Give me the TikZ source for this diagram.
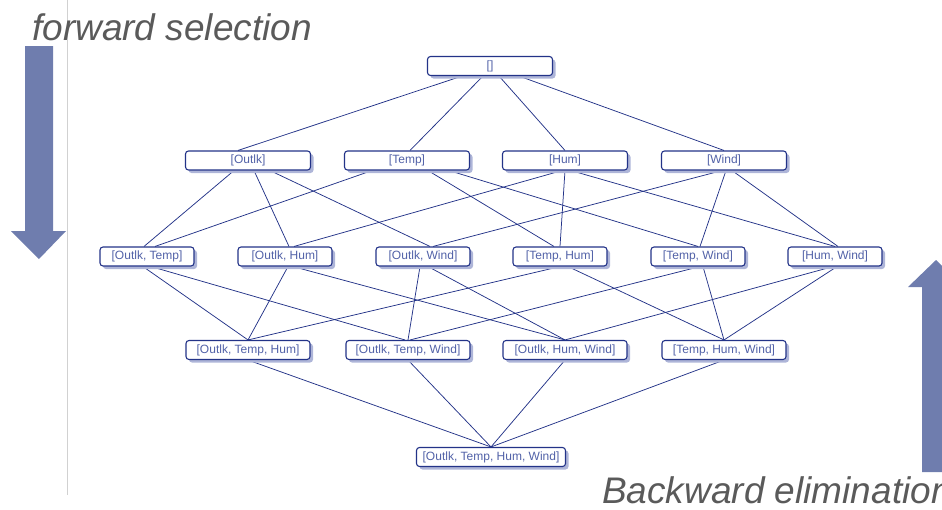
\documentclass[tikz,border=0pt]{standalone}
\usepackage{fontspec}
\setsansfont{Liberation Sans}
\usetikzlibrary{shadows,backgrounds}
\definecolor{navy}{HTML}{233388}
\definecolor{boxtext}{HTML}{5262A8}
\definecolor{shade}{HTML}{AEB5D8}
\definecolor{arrowc}{HTML}{6F7DAE}
\definecolor{captxt}{HTML}{5A5A5A}
\tikzset{
  box/.style={draw=navy, line width=1.1pt, rounded corners=3pt, fill=white,
    minimum height=19pt, inner sep=0pt, font=\sffamily\fontsize{12}{13}\selectfont,
    text=boxtext, general shadow={shadow xshift=3pt, shadow yshift=-3pt, fill=shade}},
  lnk/.style={draw=navy, line width=0.75pt},
  bigarrow/.style={fill=arrowc, draw=none},
  caption/.style={anchor=base west, inner sep=0pt, text=captxt,
    font=\sffamily\itshape\fontsize{37}{40}\selectfont}
}
\begin{document}
\begin{tikzpicture}[x=1pt,y=-1pt]
\useasboundingbox (0,0) rectangle (942,509);
\clip (0,0) rectangle (942,509);
\draw[black!18, line width=0.8pt] (67,0) -- (67,495);

% big arrows
\fill[bigarrow] (25,46) -- (53,46) -- (53,231) -- (66,231) -- (39,259) -- (11,231) -- (25,231) -- cycle;
\fill[bigarrow] (922,472) -- (950,472) -- (950,287) -- (964,287) -- (936,260) -- (908,287) -- (922,287) -- cycle;

\node[caption] (fwd) at (32,40) {forward selection};
\node[caption] (bwd) at (602,503) {Backward elimination};

% nodes
\node[box, minimum width=125pt] (t0) at (490,66) {[]};

\node[box, minimum width=125pt] (o) at (248,160.5) {[Outlk]};
\node[box, minimum width=125pt] (t) at (407,160.5) {[Temp]};
\node[box, minimum width=125pt] (h) at (565,160.5) {[Hum]};
\node[box, minimum width=125pt] (w) at (724,160.5) {[Wind]};

\node[box, minimum width=94pt] (ot) at (147,256.5) {[Outlk, Temp]};
\node[box, minimum width=94pt] (oh) at (285,256.5) {[Outlk, Hum]};
\node[box, minimum width=94pt] (ow) at (423,256.5) {[Outlk, Wind]};
\node[box, minimum width=94pt] (th) at (560,256.5) {[Temp, Hum]};
\node[box, minimum width=94pt] (tw) at (698,256.5) {[Temp, Wind]};
\node[box, minimum width=94pt] (hw) at (835,256.5) {[Hum, Wind]};

\node[box, minimum width=124pt] (oth) at (248,350) {[Outlk, Temp, Hum]};
\node[box, minimum width=124pt] (otw) at (408,350) {[Outlk, Temp, Wind]};
\node[box, minimum width=124pt] (ohw) at (565,350) {[Outlk, Hum, Wind]};
\node[box, minimum width=124pt] (thw) at (724,350) {[Temp, Hum, Wind]};

\node[box, minimum width=149pt] (all) at (491,457) {[Outlk, Temp, Hum, Wind]};

\begin{scope}[on background layer]
% level 0 -> 1
\draw[lnk] ([xshift=-28pt]t0.south) -- ([xshift=-10pt]o.north);
\draw[lnk] ([xshift=-7pt]t0.south) -- ([xshift=3pt]t.north);
\draw[lnk] ([xshift=9pt]t0.south) -- (h.north);
\draw[lnk] ([xshift=29pt]t0.south) -- (w.north);
% level 1 -> 2
\draw[lnk] ([xshift=-14pt]o.south) -- ([xshift=-3pt]ot.north);
\draw[lnk] ([xshift=6pt]o.south) -- ([xshift=4pt]oh.north);
\draw[lnk] ([xshift=22pt]o.south) -- ([xshift=7pt]ow.north);
\draw[lnk] ([xshift=-35pt]t.south) -- ([xshift=8pt]ot.north);
\draw[lnk] ([xshift=21pt]t.south) -- ([xshift=-6pt]th.north);
\draw[lnk] ([xshift=42pt]t.south) -- (tw.north);
\draw[lnk] ([xshift=-3pt]h.south) -- ([xshift=9pt]oh.north);
\draw[lnk] (h.south) -- (th.north);
\draw[lnk] ([xshift=6pt]h.south) -- (hw.north);
\draw[lnk] ([xshift=-2pt]w.south) -- ([xshift=10pt]ow.north);
\draw[lnk] ([xshift=2pt]w.south) -- ([xshift=2pt]tw.north);
\draw[lnk] ([xshift=8pt]w.south) -- ([xshift=3pt]hw.north);
% level 2 -> 3
\draw[lnk] ([xshift=-4pt]ot.south) -- (oth.north);
\draw[lnk] ([xshift=4pt]ot.south) -- ([xshift=-3pt]otw.north);
\draw[lnk] ([xshift=3pt]oh.south) -- (oth.north);
\draw[lnk] ([xshift=8pt]oh.south) -- (ohw.north);
\draw[lnk] ([xshift=-3pt]ow.south) -- (otw.north);
\draw[lnk] ([xshift=5pt]ow.south) -- (ohw.north);
\draw[lnk] (th.south) -- (oth.north);
\draw[lnk] ([xshift=8pt]th.south) -- (thw.north);
\draw[lnk] ([xshift=2pt]tw.south) -- ([xshift=2pt]otw.north);
\draw[lnk] ([xshift=5pt]tw.south) -- (thw.north);
\draw[lnk] ([xshift=-2pt]hw.south) -- (ohw.north);
\draw[lnk] ([xshift=2pt]hw.south) -- (thw.north);
% level 3 -> 4
\draw[lnk] (oth.south) -- (all.north);
\draw[lnk] (otw.south) -- (all.north);
\draw[lnk] (ohw.south) -- (all.north);
\draw[lnk] (thw.south) -- (all.north);
\end{scope}
\end{tikzpicture}
\end{document}
